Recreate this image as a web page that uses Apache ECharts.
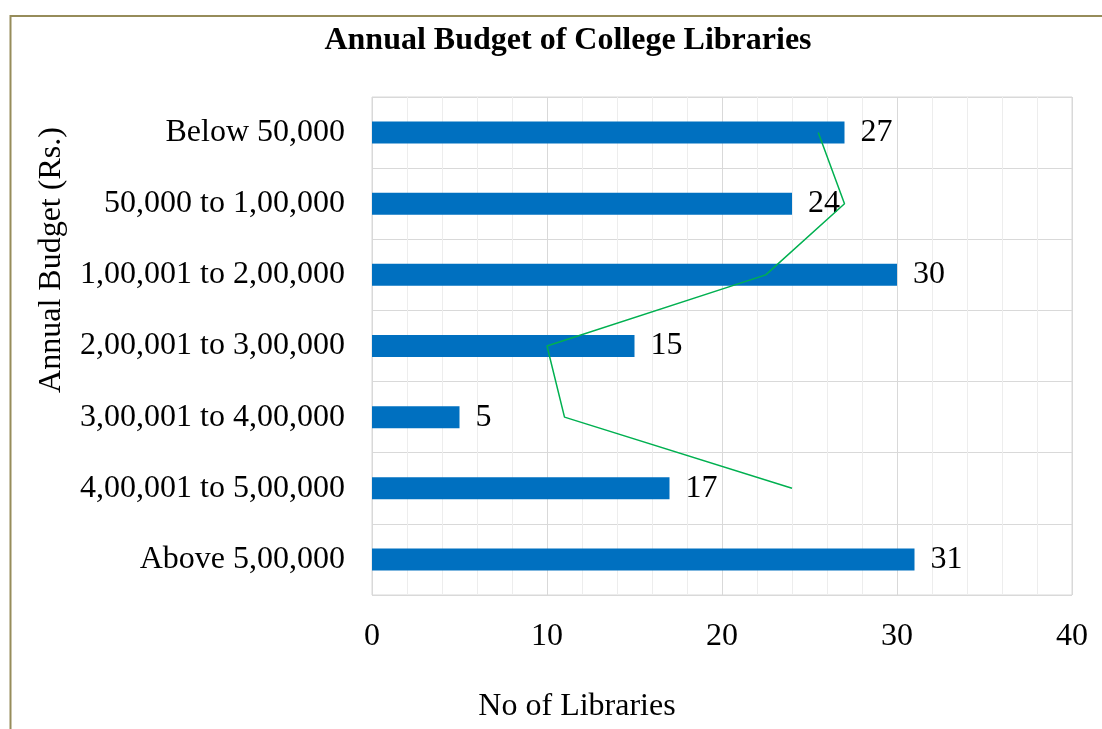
<!DOCTYPE html>
<html>
<head>
<meta charset="utf-8">
<title>Annual Budget of College Libraries</title>
<script src="https://cdn.jsdelivr.net/npm/echarts@6/dist/echarts.min.js"></script>
<style>
  html, body { margin: 0; padding: 0; background: #ffffff; }
  #chart { width: 1102px; height: 729px; }
</style>
</head>
<body>
<div id="chart"></div>
<script>
// Budget ranges, top to bottom
const categories = [
  'Below 50,000',
  '50,000 to 1,00,000',
  '1,00,001 to 2,00,000',
  '2,00,001 to 3,00,000',
  '3,00,001 to 4,00,000',
  '4,00,001 to 5,00,000',
  'Above 5,00,000'
];
// Number of libraries in each range
const libraries = [27, 24, 30, 15, 5, 17, 31];
// Two-period moving average trend line
const trend = [25.5, 27, 22.5, 10, 11, 24, null];
// Value axis ticks
const xTicks = [0, 10, 20, 30, 40];

const FONT = '"Liberation Serif", "Times New Roman", serif';
const chart = echarts.init(document.getElementById('chart'), null, { renderer: 'canvas' });

chart.setOption({
  backgroundColor: '#ffffff',
  animation: false,
  textStyle: { fontFamily: FONT, color: '#000000' },
  grid: {
    left: 372, right: 30, top: 97, bottom: 134,
    show: true, borderColor: '#D9D9D9', borderWidth: 1
  },
  xAxis: {
    type: 'value',
    min: xTicks[0],
    max: xTicks[xTicks.length - 1],
    interval: 10,
    axisLine: { show: false },
    axisTick: { show: false },
    axisLabel: { fontFamily: FONT, fontSize: 32, color: '#000000', margin: 26 },
    splitLine: { show: true, lineStyle: { color: '#D9D9D9', width: 1 } },
    minorTick: { show: false, splitNumber: 5 },
    minorSplitLine: { show: true, lineStyle: { color: '#EDEDED', width: 1 } }
  },
  yAxis: {
    type: 'category',
    data: categories,
    inverse: true,
    axisLine: { show: false },
    axisTick: { show: false },
    axisLabel: { fontFamily: FONT, fontSize: 32, color: '#000000', margin: 27 },
    splitLine: { show: true, lineStyle: { color: '#D9D9D9', width: 1 } }
  },
  series: [
    {
      name: 'No of Libraries',
      type: 'bar',
      data: libraries,
      barWidth: 22,
      itemStyle: { color: '#0070C0' },
      label: {
        show: true,
        position: 'right',
        distance: 16,
        fontFamily: FONT,
        fontSize: 32,
        color: '#000000'
      },
      z: 2
    },
    {
      name: 'Trend',
      type: 'line',
      data: trend,
      showSymbol: false,
      symbol: 'none',
      lineStyle: { color: '#00B050', width: 1.5 },
      z: 3
    }
  ],
  graphic: [
    {
      type: 'rect',
      shape: { x: 10.5, y: 16, width: 1200, height: 800 },
      style: { fill: 'none', stroke: '#968C5A', lineWidth: 2 },
      silent: true
    },
    {
      type: 'text',
      x: 568, y: 41,
      style: {
        text: 'Annual Budget of College Libraries',
        font: 'bold 32px ' + FONT,
        fill: '#000000',
        align: 'center',
        verticalAlign: 'middle'
      }
    },
    {
      type: 'text',
      x: 52, y: 260,
      rotation: Math.PI / 2,
      style: {
        text: 'Annual Budget (Rs.)',
        font: '32px ' + FONT,
        fill: '#000000',
        align: 'center',
        verticalAlign: 'middle'
      }
    },
    {
      type: 'text',
      x: 577, y: 707,
      style: {
        text: 'No of Libraries',
        font: '32px ' + FONT,
        fill: '#000000',
        align: 'center',
        verticalAlign: 'middle'
      }
    }
  ]
});
</script>
</body>
</html>
